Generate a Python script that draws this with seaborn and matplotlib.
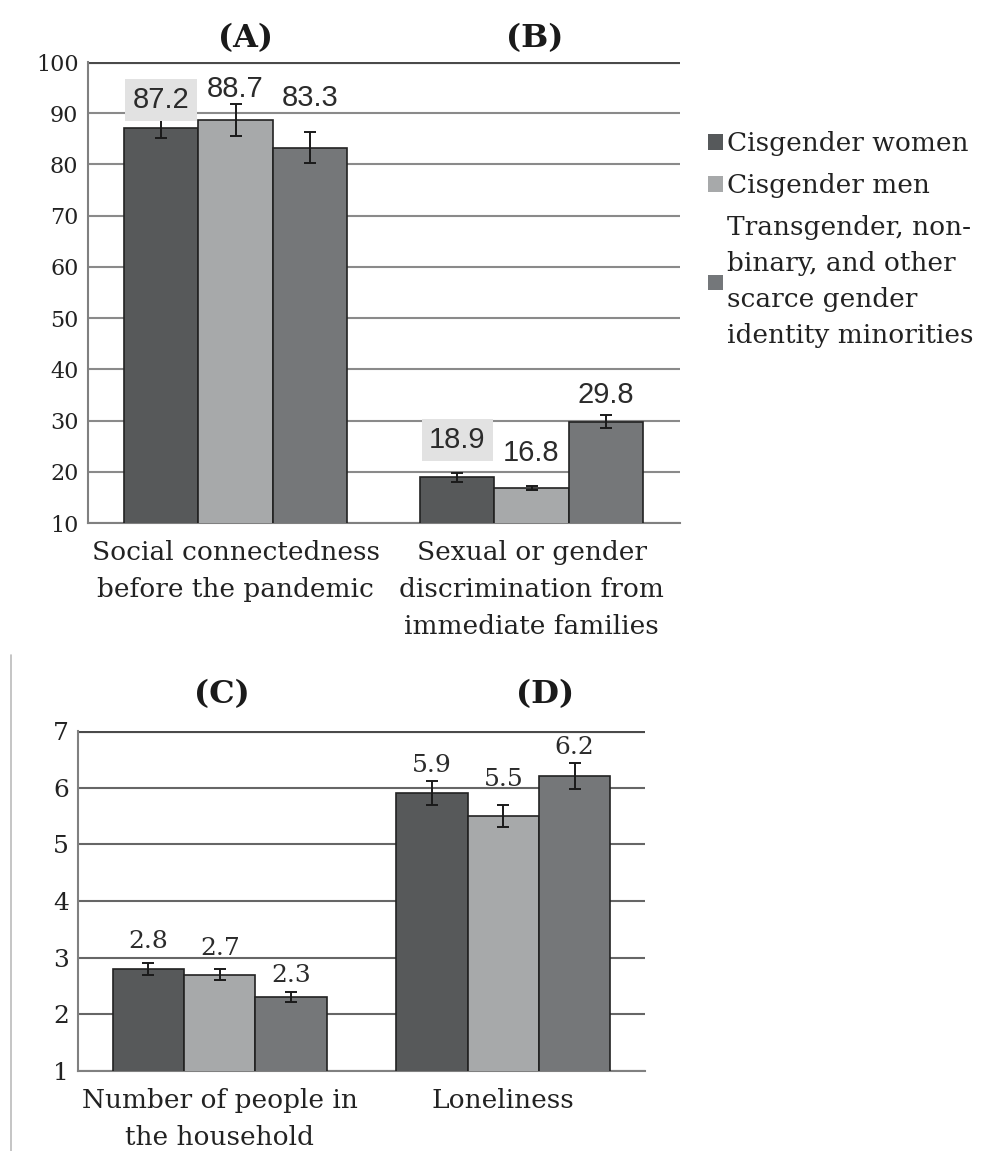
"""
Gender-group comparison bars, four panels (A)-(D).
"""

import matplotlib.pyplot as plt
from matplotlib.patches import Patch
from matplotlib.lines import Line2D
import seaborn as sns
import pandas as pd

groups = ["Cisgender women", "Cisgender men",
          "Transgender, non-\nbinary, and other\nscarce gender\nidentity minorities"]
colors = ["#56595b", "#a7a9aa", "#74777a"]

top_cats = ["Social connectedness\nbefore the pandemic",
            "Sexual or gender\ndiscrimination from\nimmediate families"]
top_women = [87.2, 18.9]
top_men = [88.7, 16.8]
top_trans = [83.3, 29.8]
top_women_err = [2.1, 0.8]
top_men_err = [3.2, 0.4]
top_trans_err = [3.0, 1.2]

bot_cats = ["Number of people in\nthe household", "Loneliness"]
bot_women = [2.8, 5.9]
bot_men = [2.7, 5.5]
bot_trans = [2.3, 6.2]
bot_women_err = [0.1, 0.21]
bot_men_err = [0.1, 0.19]
bot_trans_err = [0.09, 0.23]

# label placement (points above bar top), per group then per category
top_lab_off = [[20, 27], [22, 25], [36, 19]]
bot_lab_off = [[19.5, 20], [18.7, 26.6], [15.8, 21]]

serif = ["DejaVu Serif"]


def make_df(cats, w, m, t, we, me, te):
    rows = []
    for g, vals, errs in zip(groups, [w, m, t], [we, me, te]):
        for c, v, e in zip(cats, vals, errs):
            rows.append({"cat": c, "group": g, "val": v, "err": e})
    return pd.DataFrame(rows)


def draw_panel(ax, df, cats, ylo, yhi, ystep, offsets, boxed, lab_font, fs_tick, grid_col):
    sns.barplot(data=df, x="cat", y="val", hue="group", order=cats, hue_order=groups,
                palette=colors, width=0.755, edgecolor="#222222", linewidth=1.2,
                errorbar=None, legend=False, ax=ax, zorder=3)
    bar_conts = list(ax.containers)
    for gi, cont in enumerate(bar_conts):
        sub = df[df["group"] == groups[gi]].set_index("cat").loc[cats]
        for ci, bar in enumerate(cont):
            xc = bar.get_x() + bar.get_width() / 2
            v = sub["val"].iloc[ci]
            e = sub["err"].iloc[ci]
            ax.errorbar(xc, v, yerr=e, color="#1a1a1a", capsize=4.5, lw=1.4,
                        capthick=1.4, zorder=4)
            box = None
            if boxed and gi == 0:
                box = dict(boxstyle="square,pad=0.25", facecolor="#e2e2e2", edgecolor="none")
            ax.annotate(f"{v:.1f}", (xc, v), xytext=(0, offsets[gi][ci]),
                        textcoords="offset points", ha="center", va="center",
                        color="#2b2b2b", bbox=box, zorder=5, **lab_font)
    ax.set_ylim(ylo, yhi)
    ax.set_xlim(-0.5, 1.5)
    ax.set_yticks(range(ylo, yhi + 1, ystep))
    ax.yaxis.grid(True, color=grid_col, lw=1.5, zorder=0)
    ax.set_axisbelow(True)
    ax.axhline(yhi, color="#4a4a4a", lw=3, zorder=1)
    ax.set_xlabel("")
    ax.set_ylabel("")
    for s in ["top", "right"]:
        ax.spines[s].set_visible(False)
    for s in ["left", "bottom"]:
        ax.spines[s].set_color("#808080")
        ax.spines[s].set_linewidth(1.5)
    ax.tick_params(axis="x", length=0, pad=12)
    ax.tick_params(axis="y", length=5, width=1.5, color="#808080", pad=1.5)
    ax.set_xticks([-0.5, 0.5, 1.5], minor=True)
    ax.tick_params(axis="x", which="minor", length=9, width=1.5, color="#808080",
                   direction="out")
    for lab in ax.get_xticklabels():
        lab.set_family(serif)
        lab.set_fontsize(19)
        lab.set_linespacing(1.6)
        lab.set_color("#222222")
    for lab in ax.get_yticklabels():
        lab.set_family(serif)
        lab.set_fontsize(fs_tick)
        lab.set_color("#222222")


sns.set_style("white")
fig = plt.figure(figsize=(9.89, 11.51), dpi=100)

ax1 = fig.add_axes([0.0885, 0.5456, 0.5986, 0.4005])
df_top = make_df(top_cats, top_women, top_men, top_trans,
                 top_women_err, top_men_err, top_trans_err)
draw_panel(ax1, df_top, top_cats, 10, 100, 10, top_lab_off, True,
           {"family": ["Liberation Sans"], "fontsize": 21}, 16, "#8a8a8a")
for x, t in [(0.032, "(A)"), (1.012, "(B)")]:
    ax1.text(x, 1.052, t, transform=ax1.get_xaxis_transform(), ha="center",
             va="center", fontsize=23, fontweight="bold", family=serif, color="#1a1a1a")

ax2 = fig.add_axes([0.0789, 0.0695, 0.5733, 0.2954])
df_bot = make_df(bot_cats, bot_women, bot_men, bot_trans,
                 bot_women_err, bot_men_err, bot_trans_err)
draw_panel(ax2, df_bot, bot_cats, 1, 7, 1, bot_lab_off, False,
           {"family": serif, "fontsize": 18}, 18, "#666666")
for x, t in [(0.008, "(C)"), (1.147, "(D)")]:
    ax2.text(x, 1.106, t, transform=ax2.get_xaxis_transform(), ha="center",
             va="center", fontsize=23, fontweight="bold", family=serif, color="#1a1a1a")

# thin frame line at left of lower panel
fig.add_artist(Line2D([0.011, 0.011], [0, 1 - 655 / 1151], color="#bbbbbb", lw=1.2))

handles = [Patch(facecolor=c, edgecolor="none") for c in colors]
leg = fig.legend(handles, groups, loc="upper left", bbox_to_anchor=(0.716, 1 - 131 / 1151),
                 frameon=False, handlelength=0.55, handleheight=0.55, handletextpad=0.15,
                 labelspacing=0.65, borderaxespad=0, borderpad=0,
                 prop={"family": serif, "size": 19})
for t in leg.get_texts():
    t.set_linespacing(1.55)
    t.set_color("#222222")

fig.savefig("out.png", dpi=100)
